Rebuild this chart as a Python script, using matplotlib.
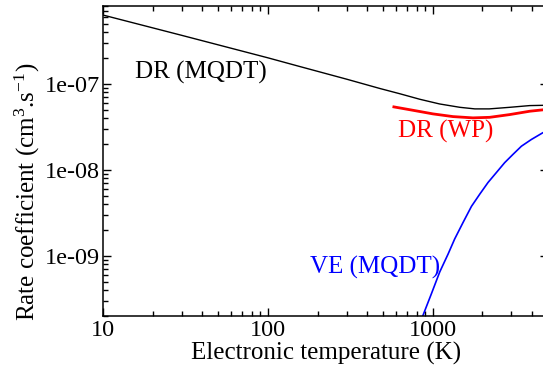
import matplotlib
matplotlib.use("Agg")
import matplotlib.pyplot as plt
from matplotlib.ticker import LogLocator, FixedLocator, FuncFormatter, NullFormatter

plt.rcParams['font.family'] = ['Liberation Serif', 'DejaVu Serif']
plt.rcParams['mathtext.fontset'] = 'custom'
plt.rcParams['mathtext.rm'] = 'Liberation Serif'
plt.rcParams['mathtext.it'] = 'Liberation Serif:italic'

# DR (MQDT) - black
dr_mqdt_T = [10, 30, 100, 156, 300, 478, 631, 834, 1100, 1460, 1800, 2200, 2930, 3870, 4650, 5000]
dr_mqdt_k = [6.28e-7, 3.65e-7, 2.0e-7, 1.585e-7, 1.13e-7, 8.8e-8, 7.65e-8, 6.6e-8, 5.82e-8, 5.32e-8,
             5.10e-8, 5.10e-8, 5.32e-8, 5.57e-8, 5.61e-8, 5.63e-8]

# DR (WP) - red
dr_wp_T = [581, 760, 1004, 1327, 1753, 2215, 2929, 3873, 4645, 5000]
dr_wp_k = [5.38e-8, 4.91e-8, 4.46e-8, 4.15e-8, 4.01e-8, 4.07e-8, 4.38e-8, 4.79e-8, 4.97e-8, 5.05e-8]

# VE (MQDT) - blue
ve_T = [800, 873, 982, 1102, 1239, 1358, 1528, 1717, 1928, 2164, 2432, 2730, 3066, 3450, 3964, 4645, 5000]
ve_k = [1.3e-10, 2.04e-10, 3.64e-10, 6.49e-10, 1.05e-9, 1.57e-9, 2.45e-9, 3.76e-9, 5.21e-9, 7.12e-9,
        9.29e-9, 1.21e-8, 1.51e-8, 1.88e-8, 2.25e-8, 2.69e-8, 2.85e-8]

x_ticks = [10, 100, 1000]
x_tick_labels = ["10", "100", "1000"]
y_ticks = [1e-9, 1e-8, 1e-7]
y_tick_labels = ["1e-09", "1e-08", "1e-07"]

W, H = 543, 369
fig = plt.figure(figsize=(W / 100, H / 100), dpi=100)
ax = fig.add_axes([103 / W, 53 / H, (548 - 103) / W, (316 - 6) / H])

ax.plot(dr_mqdt_T, dr_mqdt_k, color='black', lw=1.0)
ax.plot(dr_wp_T, dr_wp_k, color='red', lw=2.0)
ax.plot(ve_T, ve_k, color='blue', lw=1.2)

ax.set_xscale('log')
ax.set_yscale('log')
ax.set_xlim(10, 5000)
ax.set_ylim(2e-10, 8e-7)

ax.xaxis.set_major_locator(FixedLocator(x_ticks))
ax.xaxis.set_major_formatter(FuncFormatter(lambda v, p: x_tick_labels[x_ticks.index(v)] if v in x_ticks else ""))
ax.xaxis.set_minor_locator(LogLocator(base=10, subs=range(2, 10), numticks=20))
ax.xaxis.set_minor_formatter(NullFormatter())
ax.yaxis.set_major_locator(FixedLocator(y_ticks))
ax.yaxis.set_major_formatter(FuncFormatter(lambda v, p: y_tick_labels[min(range(3), key=lambda i: abs(y_ticks[i] - v) / y_ticks[i])]))
ax.yaxis.set_minor_locator(LogLocator(base=10, subs=range(2, 10), numticks=20))
ax.yaxis.set_minor_formatter(NullFormatter())

ax.tick_params(which='both', direction='in', top=True, right=True, width=1.0, labelsize=17.5)
ax.tick_params(which='major', length=6)
ax.tick_params(which='minor', length=3.6)
ax.tick_params(axis='x', pad=3)
ax.tick_params(axis='y', pad=2)
for s in ax.spines.values():
    s.set_linewidth(1.1)

ax.text(0.220, 0.787, "DR (MQDT)", transform=ax.transAxes, ha='center', va='center', fontsize=18, color='black')
ax.text(0.769, 0.594, "DR (WP)", transform=ax.transAxes, ha='center', va='center', fontsize=18, color='red')
ax.text(0.611, 0.155, "VE (MQDT)", transform=ax.transAxes, ha='center', va='center', fontsize=18, color='blue')

fig.text(326 / W, 1 - 353 / H, "Electronic temperature (K)", ha='center', va='center', fontsize=18)
fig.text(27 / W, 1 - 191.5 / H, r"Rate coefficient (cm$^{3}$.s$^{-1}$)", ha='center', va='center',
         rotation=90, fontsize=18)

fig.savefig("out.png", dpi=100)
